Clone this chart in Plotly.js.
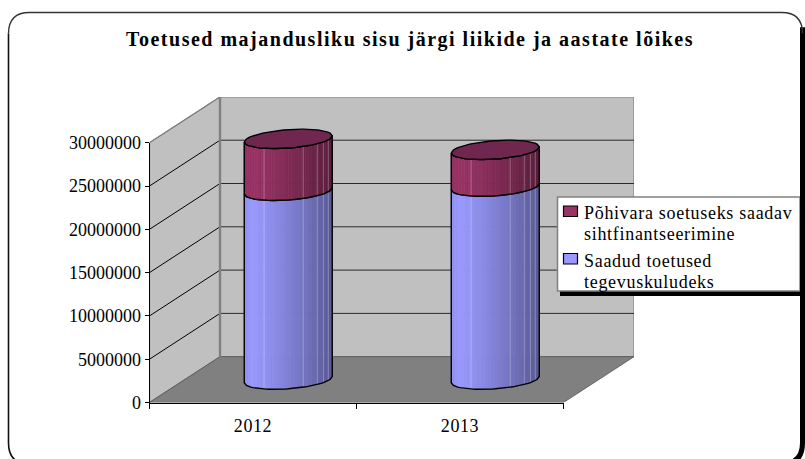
<!DOCTYPE html>
<html><head><meta charset="utf-8">
<script src="https://cdn.plot.ly/plotly-3.0.1.min.js"></script>
<style>
html,body{margin:0;padding:0;background:#fff;overflow:hidden}
#c{width:805px;height:459px}
.gtitle{letter-spacing:1.5px}
.xtick text{letter-spacing:0.6px}
.ytick text{letter-spacing:1.4px}
.annotation-text{letter-spacing:0.7px}
</style></head><body><div id="c"></div>
<script>
const categories = ['2012','2013'];
const seriesLines = [['Saadud toetused','tegevuskuludeks'],['Põhivara soetuseks saadav','sihtfinantseerimine']];
const grantsOperating = [21800000, 22280000];
const grantsAssets = [6000000, 4250000];
const yTicks = [0,5000000,10000000,15000000,20000000,25000000,30000000];
const titleText = 'Toetused majandusliku sisu järgi liikide ja aastate lõikes';

const W=805,H=459, FONT='"Liberation Serif","Times New Roman",serif';
const px=v=>v/W, py=v=>1-v/H;
// pixel scale of the front plane
const X0=149.5,X2=563.5,Y0=402.5,Y30=142.7,DX=70.5,DY=45.8;
const unitX=(X2-X0)/2, unitY=(Y0-Y30)/30000000;
const depthX=DX/unitX, depthY=DY/unitY;
const P=(x,y,d)=>[x+depthX*d, y+depthY*d];
const traces=[];
function poly(pts,opt){
  traces.push(Object.assign({type:'scatter',mode:'lines',x:pts.map(p=>p[0]),y:pts.map(p=>p[1]),
    hoverinfo:'skip',showlegend:false,xaxis:'x',yaxis:'y'},opt));
}
const fillPoly=(pts,col,lineCol,lw)=>poly(pts.concat([pts[0]]),{fill:'toself',fillcolor:col,line:{color:lineCol||col,width:lw===undefined?0.6:lw}});
const linePoly=(pts,col,lw)=>poly(pts,{line:{color:col,width:lw}});
// walls and floor
const YTOP=30000000;
fillPoly([P(0,0,1),P(2,0,1),P(2,YTOP,1),P(0,YTOP,1)],'#C0C0C0','#808080',1.2);
fillPoly([P(0,0,0),P(0,0,1),P(0,YTOP,1),P(0,YTOP,0)],'#C0C0C0','#808080',1.2);
yTicks.slice(1,-1).forEach(v=>{ linePoly([P(0,v,1),P(2,v,1)],'#2a2a2a',1); });
yTicks.slice(1).forEach(v=>{ linePoly([P(0,v,0),P(0,v,1)],v===YTOP?'#808080':'#000',1); });
fillPoly([P(0,0,0),P(2,0,0),P(2,0,1),P(0,0,1)],'#808080','#555',0.8);
linePoly([P(0,0,1),P(0,YTOP,1)],'#808080',2.4);
// cylinders
const halfW=44/unitX, ry=9.2/unitY, tilt=3.1/unitY;
const shade=f=>f<0.08?0.93+f*0.85:1-0.42*Math.pow((f-0.08)/0.92,1.25);
const mix=(c,s)=>'rgb('+c.map(v=>Math.round(v*s)).join(',')+')';
const edge=(cx,f,base,sgn)=>{const u=2*f-1;return [cx+halfW*u, base+sgn*ry*Math.sqrt(Math.max(0,1-u*u))+tilt*u];};
const lightLines=[0.225,0.67,0.83,0.9,0.955];
function segment(cx,lo,hi,rgb){
  const N=26;
  for(let i=0;i<N;i++){
    const f1=i/N,f2=(i+1)/N,pts=[];
    for(let k=0;k<=4;k++) pts.push(edge(cx,f1+(f2-f1)*k/4,lo,-1));
    for(let k=4;k>=0;k--) pts.push(edge(cx,f1+(f2-f1)*k/4,hi,-1));
    fillPoly(pts,mix(rgb,shade((f1+f2)/2)));
  }
  lightLines.forEach(f=>{ linePoly([edge(cx,f,lo,-1),edge(cx,f,hi,-1)],'rgba(255,255,255,0.28)',1); });
  const o=[];
  for(let k=0;k<=40;k++) o.push(edge(cx,k/40,hi,-1));
  const o2=[];
  for(let k=40;k>=0;k--) o2.push(edge(cx,k/40,lo,-1));
  linePoly(o.concat(o2).concat([o[0]]),'#000',1.4);
}
categories.forEach((c,i)=>{
  const cx=i+0.5+depthX*0.5, base=depthY*0.5;
  const a=base+grantsOperating[i], b=a+grantsAssets[i];
  segment(cx,base,a,[153,153,255]);
  segment(cx,a,b,[153,51,102]);
  const top=[];
  for(let k=0;k<=40;k++) top.push(edge(cx,k/40,b,-1));
  for(let k=40;k>=0;k--) top.push(edge(cx,k/40,b,1));
  fillPoly(top,'#70274F','#000',1.4);
});
const shapes=[], annotations=[];
const rect=(x0,y0,x1,y1,fill,lc,lw)=>shapes.push({type:'rect',xref:'paper',yref:'paper',x0:px(x0),x1:px(x1),y0:py(y0),y1:py(y1),fillcolor:fill,line:{color:lc||fill,width:lw===undefined?0:lw},layer:'above'});
// legend
rect(560,199.5,805,296,'#000');
rect(557.5,197,800,291,'#fff','#808080',1.5);
rect(563.5,206,577.5,216.5,'#993366','#000',1.2);
rect(563.5,253.5,577.5,264,'#9999FF','#000',1.2);
const legendText=(t,y)=>annotations.push({xref:'paper',yref:'paper',x:px(582),y:py(y),xanchor:'left',yanchor:'middle',align:'left',showarrow:false,text:t,font:{family:FONT,size:18,color:'#000'}});
legendText(seriesLines[1][0],212.7);
legendText(seriesLines[1][1],234);
legendText(seriesLines[0][0],260.5);
legendText(seriesLines[0][1],282);
// chart frame
const L=8.5,T=12.5,R=802.5,B=464,r=21;
const sx=px,sy=py;
shapes.push({type:'path',xref:'paper',yref:'paper',layer:'above',line:{color:'#000',width:5},
 path:`M ${sx(R)} ${sy(T+r*0.7)} L ${sx(R)} ${sy(B-r)} Q ${sx(R)} ${sy(B)} ${sx(R-r)} ${sy(B)}`});
shapes.push({type:'path',xref:'paper',yref:'paper',layer:'above',line:{color:'#333',width:1.4},
 path:`M ${sx(L)} ${sy(T+r)} Q ${sx(L)} ${sy(T)} ${sx(L+r)} ${sy(T)} L ${sx(R-r)} ${sy(T)} Q ${sx(R)} ${sy(T)} ${sx(R)} ${sy(T+r)}`});
shapes.push({type:'path',xref:'paper',yref:'paper',layer:'above',line:{color:'#111',width:1.6},
 path:`M ${sx(L)} ${sy(T+r)} L ${sx(L)} ${sy(B-r)} Q ${sx(L)} ${sy(B)} ${sx(L+r)} ${sy(B)}`});

// visible front axes get one invisible trace so the subplot exists
traces.push({type:'scatter',mode:'markers',x:[0],y:[0],xaxis:'x2',yaxis:'y2',marker:{opacity:0},hoverinfo:'skip',showlegend:false});

const tf={family:FONT,size:18,color:'#000'};
const layout={
  width:W,height:H,margin:{l:0,r:0,t:0,b:0},paper_bgcolor:'#fff',plot_bgcolor:'rgba(0,0,0,0)',showlegend:false,
  title:{text:'<b>'+titleText+'</b>',x:px(410),y:py(39),xanchor:'center',yanchor:'middle',xref:'paper',yref:'paper',font:{family:FONT,size:20,color:'#000'}},
  xaxis:{domain:[px(X0),px(X0+ (X2-X0)+DX)],range:[0,2+depthX],tickmode:'array',tickvals:[0.5,1.5],ticktext:categories,
    showgrid:false,zeroline:false,showline:false,ticks:'outside',ticklen:7,tickcolor:'rgba(0,0,0,0)',tickfont:tf,anchor:'y'},
  yaxis:{domain:[py(Y0),py(Y30-DY)],range:[0,YTOP+depthY],visible:false,fixedrange:true,anchor:'x'},
  xaxis2:{domain:[px(X0),px(X2)],range:[0,2],tickmode:'array',tickvals:[0,1,2],ticktext:['','',''],showgrid:false,zeroline:false,
    showline:true,linecolor:'#000',linewidth:1,ticks:'outside',ticklen:5,tickcolor:'#000',anchor:'y2'},
  yaxis2:{domain:[py(Y0),py(Y30)],range:[0,YTOP],tickmode:'array',tickvals:yTicks,ticktext:yTicks.map(String),showgrid:false,zeroline:false,
    showline:true,linecolor:'#000',linewidth:1,ticks:'outside',ticklen:4,tickcolor:'#000',tickfont:tf,anchor:'x2'},
  shapes,annotations
};
Plotly.newPlot('c',traces,layout,{staticPlot:true,displayModeBar:false});
</script></body></html>
